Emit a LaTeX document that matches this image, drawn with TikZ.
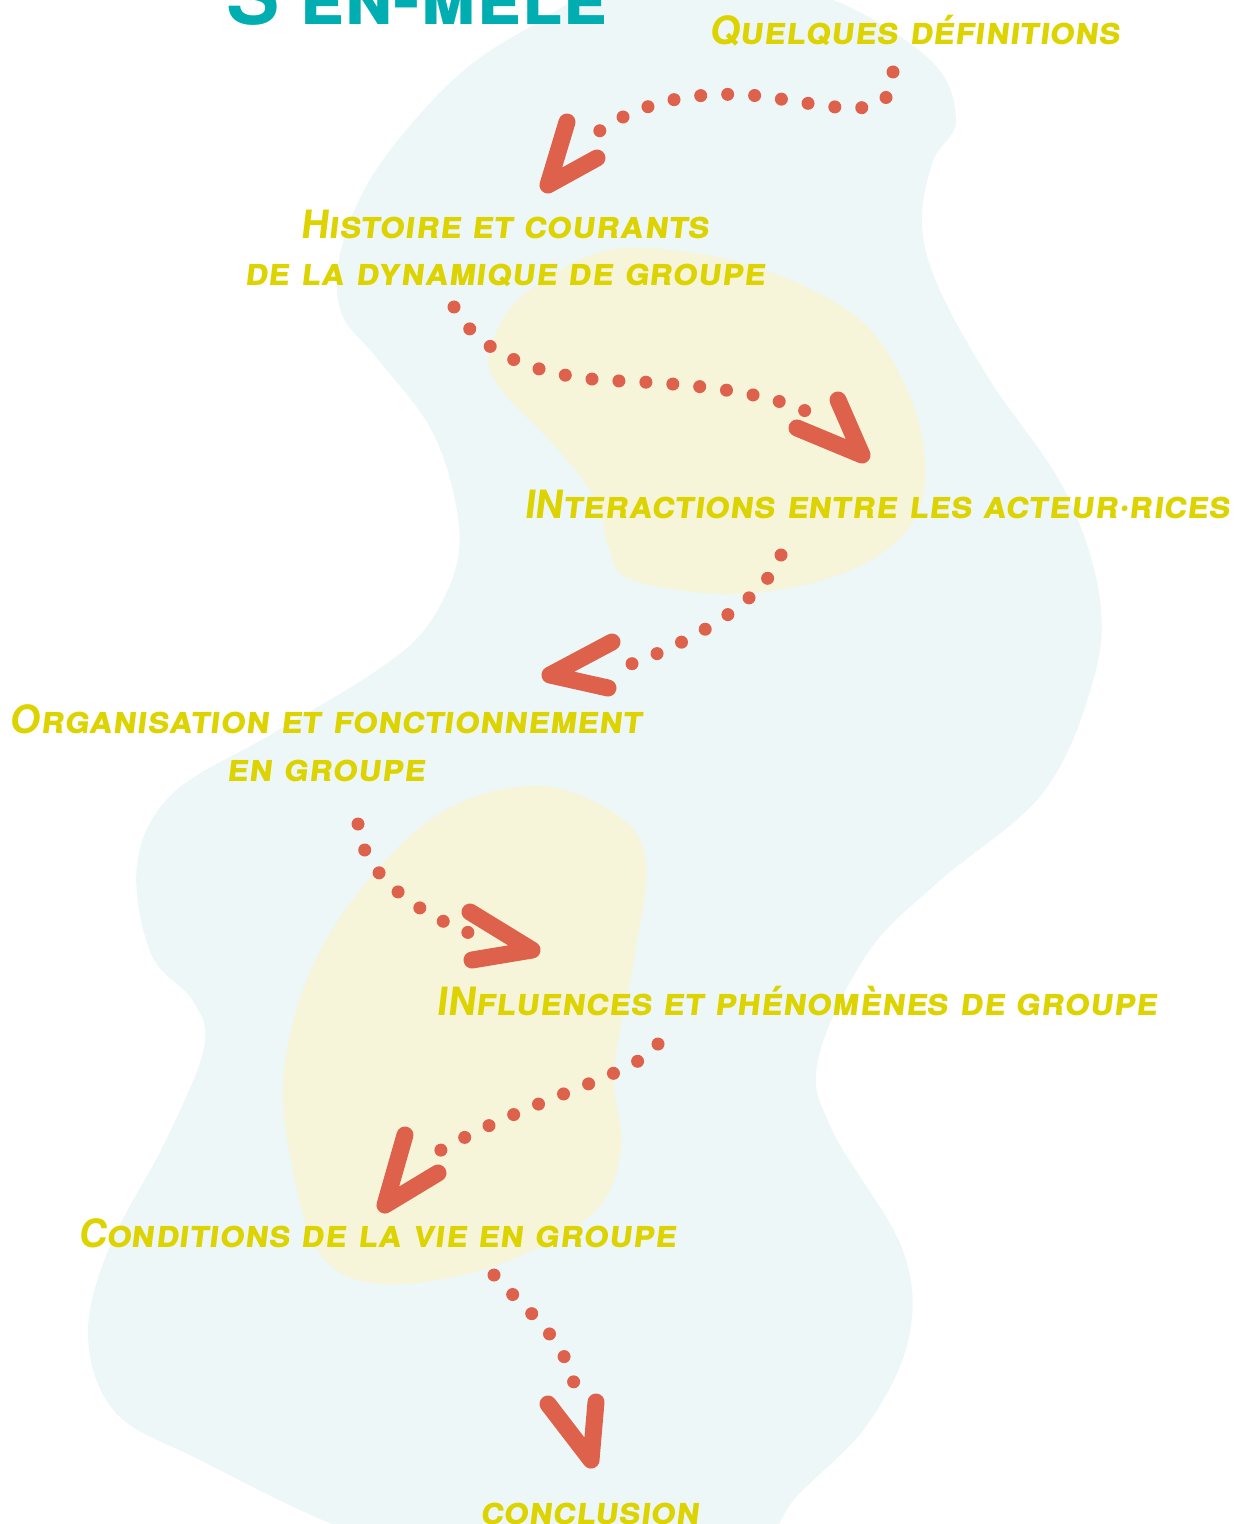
\documentclass[tikz,border=0pt]{standalone}
\usepackage{fontspec}
\setmainfont{TeX Gyre Heros}
\newfontfamily\handfont[Letters=SmallCaps, FakeSlant=0.12]{TeX Gyre Heros}
\newfontfamily\titlefont[Letters=SmallCaps]{TeX Gyre Heros}
\usetikzlibrary{calc}
\definecolor{blobteal}{HTML}{EDF7F7}
\definecolor{blobyellow}{HTML}{F6F5DA}
\definecolor{labelyellow}{HTML}{DCD300}
\definecolor{arrowred}{HTML}{DD614B}
\definecolor{titleteal}{HTML}{00AEB1}
\tikzset{
  steplabel/.style={text=labelyellow, font=\handfont\bfseries\fontsize{19.5}{24}\selectfont,
    align=center, inner sep=0pt, anchor=base},
  dotline/.style={arrowred, line width=6.5pt, line cap=round, dash pattern=on 0pt off 13.5pt},
  brush/.style={arrowred, line width=8.5pt, line cap=round, line join=round},
}
\newcommand*{\BrushHead}[3]{% #1 = tip, #2 and #3 = free ends of the two strokes
\draw [brush] (#2) -- (#1) -- (#3);
}

\begin{document}
\begin{tikzpicture}[x=0.5pt,y=-0.5pt]
\useasboundingbox (0,0) rectangle (1237,1524);

% background blobs
\fill [blobteal] plot [smooth cycle, tension=0.6] coordinates {
  (530,27) (640,-25) (810,-8) (928,58) (956,120) (933,161) (922,223)
  (938,286) (989,379) (1065,491) (1100,600) (1091,688) (1042,794)
  (937,883) (867,954) (818,1060) (832,1130) (902,1248) (909,1337)
  (867,1425) (797,1496) (740,1560) (560,1590) (360,1535) (200,1460)
  (116,1413) (88,1337) (109,1248) (165,1142) (204,1048) (193,1001)
  (151,954) (137,865) (172,794) (270,735) (376,671) (428,625)
  (458,558) (453,491) (428,424) (376,357) (341,312) (341,250)
  (376,170) (453,80)};
\fill [blobyellow] plot [smooth cycle, tension=0.6] coordinates {
  (647,248) (759,268) (861,321) (912,402) (925,482) (902,536)
  (836,576) (734,594) (632,580) (609,549) (596,500) (555,446)
  (504,393) (489,357) (514,304) (581,259)};
\fill [blobyellow] plot [smooth cycle, tension=0.6] coordinates {
  (544,786) (621,818) (646,865) (635,954) (614,1071) (621,1148)
  (593,1213) (495,1266) (383,1284) (320,1254) (291,1160) (284,1071)
  (313,965) (376,871) (453,806)};

% title
\node (title) [text=titleteal, font=\titlefont\bfseries\fontsize{40}{40}\selectfont,
  inner sep=0pt, anchor=base] at (417,25) {S'en-mêle};

% steps
\node (defs)  [steplabel] at (915,45)   {Quelques définitions};
\node (hist)  [steplabel] at (505,286)  {Histoire et courants\\de la dynamique de groupe};
\node (inter) [steplabel] at (877,518)  {INteractions entre les acteur·rices};
\node (orga)  [steplabel] at (326,781)  {Organisation et fonctionnement\\en groupe};
\node (infl)  [steplabel] at (797,1015) {INfluences et phénomènes de groupe};
\node (cond)  [steplabel] at (377,1247) {Conditions de la vie en groupe};
\node (concl) [steplabel] at (590,1524) {conclusion};

% arrows
\coordinate (a1s) at (893,72);   \coordinate (a1e) at (582,145);
\coordinate (h1) at (548,185);   \coordinate (h1a) at (567,122);  \coordinate (h1b) at (597,158);
\coordinate (a2s) at (454,307);  \coordinate (a2e) at (812,414);
\coordinate (h2) at (862,455);   \coordinate (h2a) at (838,400);  \coordinate (h2b) at (797,428);
\coordinate (a3s) at (781,555);  \coordinate (a3e) at (614,670);
\coordinate (h3) at (550,675);   \coordinate (h3a) at (612,642);  \coordinate (h3b) at (608,688);
\coordinate (a4s) at (358,824);  \coordinate (a4e) at (483,938);
\coordinate (h4) at (532,950);   \coordinate (h4a) at (470,912);  \coordinate (h4b) at (472,960);
\coordinate (a5s) at (658,1044); \coordinate (a5e) at (419,1163);
\coordinate (h5) at (385,1205);  \coordinate (h5a) at (405,1135); \coordinate (h5b) at (438,1173);
\coordinate (a6s) at (494,1275); \coordinate (a6e) at (577,1400);
\coordinate (h6) at (591,1460);  \coordinate (h6a) at (548,1404); \coordinate (h6b) at (596,1402);

\draw [dotline] (a1s) .. controls (894,125) and (840,107) .. (760,96)
  .. controls (680,88) and (620,110) .. (a1e);
\draw [dotline] (a2s) .. controls (480,355) and (540,378) .. (620,381)
  .. controls (700,384) and (770,393) .. (a2e);
\draw [dotline] (a3s) .. controls (765,600) and (690,645) .. (a3e);
\draw [dotline] (a4s) .. controls (362,880) and (430,920) .. (a4e);
\draw [dotline] (a5s) .. controls (640,1075) and (520,1100) .. (a5e);
\draw [dotline] (a6s) .. controls (530,1315) and (570,1340) .. (a6e);

\foreach \h in {h1,h2,h3,h4,h5,h6} {
  \BrushHead{\h}{\h a}{\h b}
}
\end{tikzpicture}
\end{document}
